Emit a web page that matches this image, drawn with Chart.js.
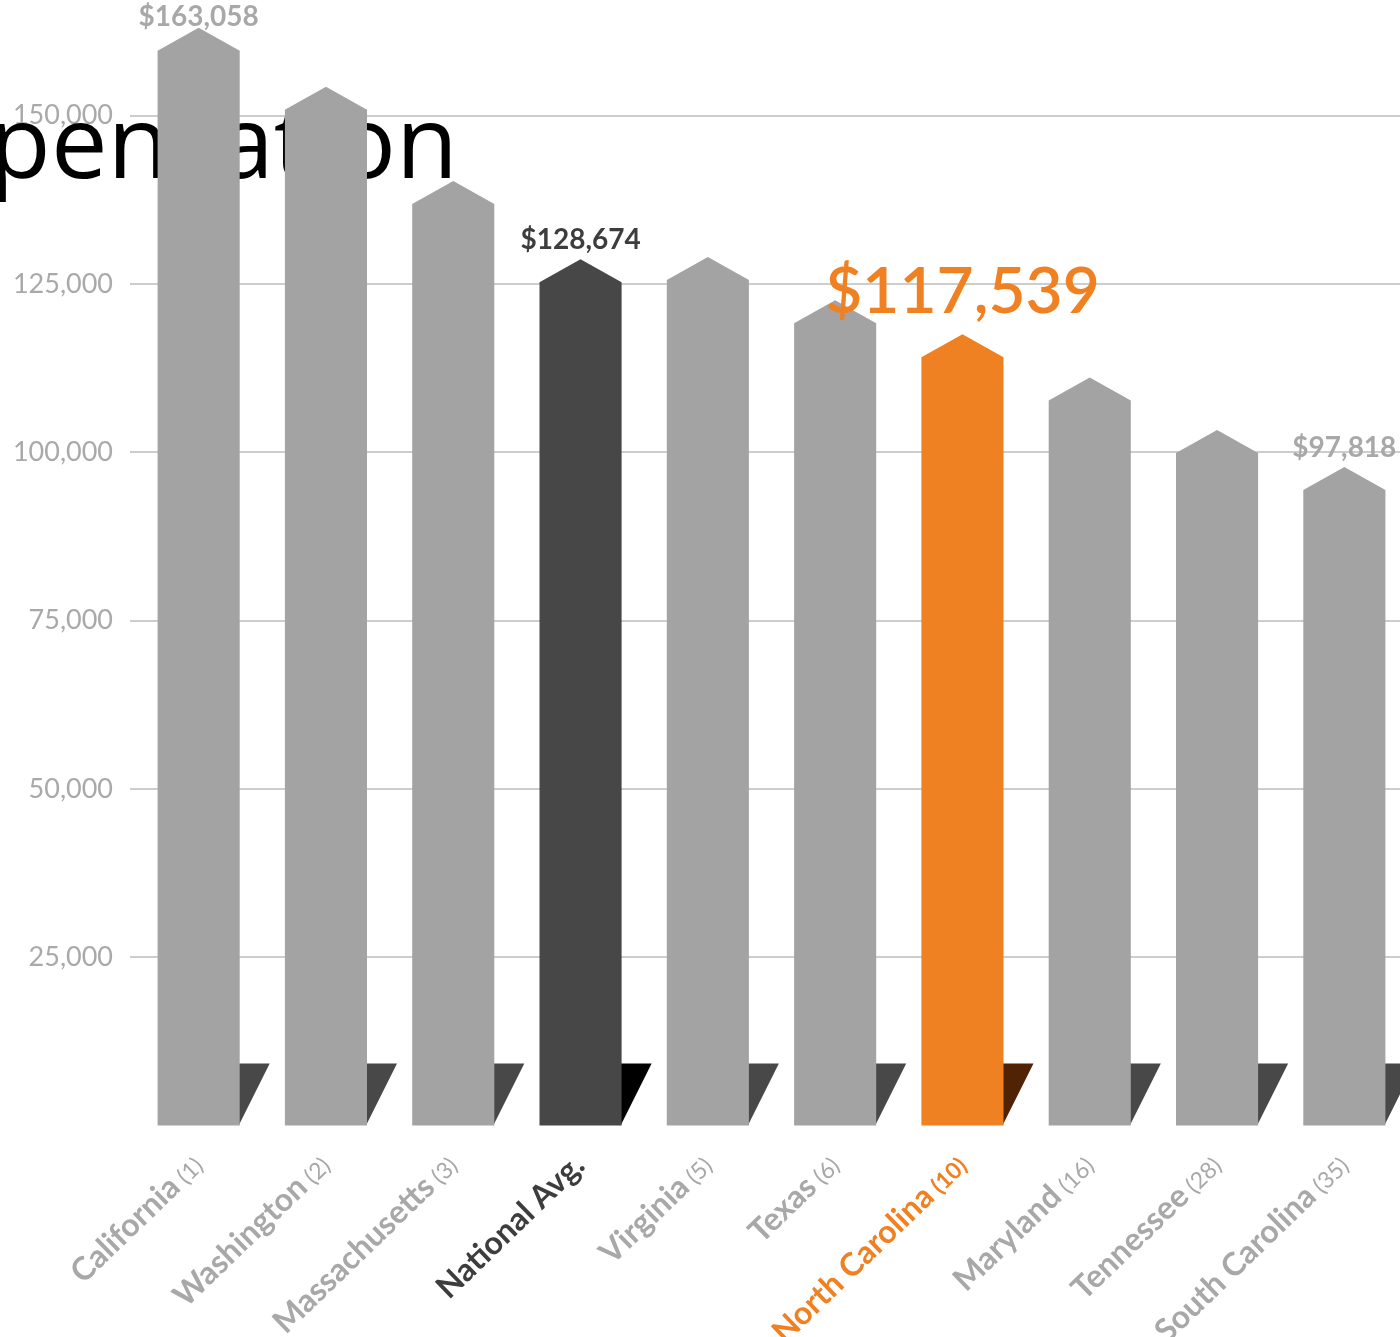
<!DOCTYPE html>
<html>
<head>
<meta charset="utf-8">
<script src="https://cdn.jsdelivr.net/npm/chart.js@4.4.1/dist/chart.umd.min.js"></script>
<style>
  html, body { margin: 0; padding: 0; background: #fff; overflow: hidden; }
  #wrap { width: 1400px; height: 1337px; overflow: hidden; position: relative; }
  canvas { display: block; }
</style>
</head>
<body>
<div id="wrap"><canvas id="c" width="1410" height="1337"></canvas></div>
<script>
// ---- data ----
const titleText = 'Compensation';
const categories = ['California', 'Washington', 'Massachusetts', 'National Avg.', 'Virginia',
                    'Texas', 'North Carolina', 'Maryland', 'Tennessee', 'South Carolina'];
const ranks = ['(1)', '(2)', '(3)', '', '(5)', '(6)', '(10)', '(16)', '(28)', '(35)'];
const salaries = [163058, 154300, 140300, 128674, 129000, 122600, 117539, 111100, 103300, 97818];
const labeledStates = ['California', 'National Avg.', 'North Carolina', 'South Carolina'];
const yTickValues = [25000, 50000, 75000, 100000, 125000, 150000];
const yMax = 166000;

// ---- styles ----
const GRAY = '#a3a3a3', DARK = '#474747', ORANGE = '#f08122';
const AVG_NAME = 'National Avg.', FOCUS_NAME = 'North Carolina';
function barColor(i) {
  if (categories[i] === AVG_NAME) return DARK;
  if (categories[i] === FOCUS_NAME) return ORANGE;
  return GRAY;
}
function shadowColor(i) {
  if (categories[i] === AVG_NAME) return '#000000';
  if (categories[i] === FOCUS_NAME) return '#4f2303';
  return '#484848';
}
function textColor(i) {
  if (categories[i] === AVG_NAME) return '#3d3d3d';
  if (categories[i] === FOCUS_NAME) return ORANGE;
  return '#a8a8a8';
}
const ROOF_H = 23;      // height of the pointed cap on each bar
const FOLD_H = 62;      // folded corner at the foot of each bar
const FOLD_W = 30;

const money = v => '$' + v.toLocaleString('en-US');

// Pointed bars with a folded corner at their base
const pentagonBars = {
  id: 'pentagonBars',
  beforeDatasetDraw(chart, args) {
    const ctx = chart.ctx;
    ctx.save();
    args.meta.data.forEach((bar, i) => {
      const { x, y, base, width } = bar.getProps(['x', 'y', 'base', 'width'], true);
      const l = x - width / 2, r = x + width / 2;
      ctx.fillStyle = shadowColor(i);
      ctx.beginPath();
      ctx.moveTo(r - 1, base - FOLD_H);
      ctx.lineTo(r + FOLD_W, base - FOLD_H);
      ctx.lineTo(r - 1, base);
      ctx.closePath();
      ctx.fill();
      ctx.fillStyle = barColor(i);
      ctx.beginPath();
      ctx.moveTo(l, base);
      ctx.lineTo(l, y + ROOF_H);
      ctx.lineTo(x, y);
      ctx.lineTo(r, y + ROOF_H);
      ctx.lineTo(r, base);
      ctx.closePath();
      ctx.fill();
    });
    ctx.restore();
    return false;
  }
};

// Big title word sitting behind the bars
const backTitle = {
  id: 'backTitle',
  beforeDatasetsDraw(chart) {
    const ctx = chart.ctx;
    ctx.save();
    ctx.font = '400 101px "Open Sans"';
    ctx.fillStyle = '#000';
    ctx.textAlign = 'right';
    ctx.textBaseline = 'alphabetic';
    ctx.fillText(titleText, 458, 178);
    ctx.restore();
  }
};

// Dollar values above selected bars
const valueLabels = {
  id: 'valueLabels',
  afterDatasetsDraw(chart) {
    const ctx = chart.ctx;
    const meta = chart.getDatasetMeta(0);
    ctx.save();
    ctx.textAlign = 'center';
    ctx.textBaseline = 'alphabetic';
    meta.data.forEach((bar, i) => {
      if (!labeledStates.includes(categories[i])) return;
      const focus = categories[i] === FOCUS_NAME;
      ctx.font = focus ? '600 64px Lato' : '700 28px Lato';
      ctx.fillStyle = textColor(i);
      const yy = Math.max(bar.y - (focus ? 21 : 10), 26);
      ctx.fillText(money(salaries[i]), bar.x, yy);
    });
    ctx.restore();
  }
};

// Slanted category labels with rank in smaller type
const slantLabels = {
  id: 'slantLabels',
  afterDraw(chart) {
    const ctx = chart.ctx;
    const meta = chart.getDatasetMeta(0);
    const base = chart.chartArea.bottom;
    ctx.save();
    ctx.textBaseline = 'alphabetic';
    ctx.textAlign = 'right';
    meta.data.forEach((bar, i) => {
      ctx.save();
      ctx.translate(bar.x + 6, base + 42);
      ctx.rotate(-44 * Math.PI / 180);
      ctx.fillStyle = textColor(i);
      let offset = 0;
      if (ranks[i]) {
        ctx.font = (categories[i] === FOCUS_NAME ? '700 ' : '400 ') + '23px Lato';
        ctx.fillText(ranks[i], 0, 0);
        offset = ctx.measureText(ranks[i]).width + 6;
      }
      ctx.font = '700 32px Lato';
      ctx.fillText(categories[i], -offset, 0);
      ctx.restore();
    });
    ctx.restore();
  }
};

new Chart(document.getElementById('c'), {
  type: 'bar',
  data: {
    labels: categories,
    datasets: [{
      data: salaries,
      backgroundColor: categories.map((_, i) => barColor(i)),
      barPercentage: 1,
      categoryPercentage: 0.645
    }]
  },
  options: {
    responsive: false,
    animation: false,
    devicePixelRatio: 1,
    layout: { padding: { top: 8, right: 2, left: 0, bottom: 0 } },
    plugins: { legend: { display: false }, tooltip: { enabled: false }, title: { display: false } },
    scales: {
      x: {
        grid: { display: false },
        border: { display: false },
        ticks: { display: false },
        afterFit(scale) { scale.height = 211.5; }
      },
      y: {
        min: 0,
        max: yMax,
        border: { display: false },
        grid: { color: '#cdcdcd', lineWidth: 2, tickLength: 5, tickColor: '#cdcdcd' },
        ticks: {
          autoSkip: false,
          padding: 17,
          color: '#a9a9a9',
          font: { family: 'Lato', size: 27 },
          callback: v => v.toLocaleString('en-US')
        },
        afterBuildTicks(scale) {
          scale.ticks = yTickValues.map(v => ({ value: v }));
        },
        afterFit(scale) {
          scale.width = 135;
          scale.paddingTop = 0;
          scale.paddingBottom = 0;
        }
      }
    }
  },
  plugins: [backTitle, pentagonBars, valueLabels, slantLabels]
});
</script>
</body>
</html>
